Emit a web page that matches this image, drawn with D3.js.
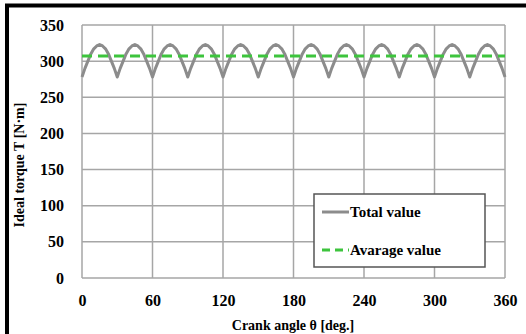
<!doctype html>
<html>
<head>
    <script src="https://d3js.org/d3.v7.min.js"></script>
    <style>
        body { margin: 0; background: #fff; }
        text { font-family: "Liberation Serif", "Times New Roman", serif; font-weight: bold; fill: #000; }
    </style>
</head>
<body>
    <svg width="526" height="334"></svg>

    <script>
        // crank angle [deg.] sampled every 2.5 deg, one hump (30 deg) per row
        var angles = [
            0, 2.5, 5, 7.5, 10, 12.5, 15, 17.5, 20, 22.5, 25, 27.5,
            30, 32.5, 35, 37.5, 40, 42.5, 45, 47.5, 50, 52.5, 55, 57.5,
            60, 62.5, 65, 67.5, 70, 72.5, 75, 77.5, 80, 82.5, 85, 87.5,
            90, 92.5, 95, 97.5, 100, 102.5, 105, 107.5, 110, 112.5, 115, 117.5,
            120, 122.5, 125, 127.5, 130, 132.5, 135, 137.5, 140, 142.5, 145, 147.5,
            150, 152.5, 155, 157.5, 160, 162.5, 165, 167.5, 170, 172.5, 175, 177.5,
            180, 182.5, 185, 187.5, 190, 192.5, 195, 197.5, 200, 202.5, 205, 207.5,
            210, 212.5, 215, 217.5, 220, 222.5, 225, 227.5, 230, 232.5, 235, 237.5,
            240, 242.5, 245, 247.5, 250, 252.5, 255, 257.5, 260, 262.5, 265, 267.5,
            270, 272.5, 275, 277.5, 280, 282.5, 285, 287.5, 290, 292.5, 295, 297.5,
            300, 302.5, 305, 307.5, 310, 312.5, 315, 317.5, 320, 322.5, 325, 327.5,
            330, 332.5, 335, 337.5, 340, 342.5, 345, 347.5, 350, 352.5, 355, 357.5,
            360
        ];
        // total ideal torque [N·m]
        var totalValue = [
            278, 290, 300, 310, 317, 321, 323, 321, 317, 310, 300, 290,
            278, 290, 300, 310, 317, 321, 323, 321, 317, 310, 300, 290,
            278, 290, 300, 310, 317, 321, 323, 321, 317, 310, 300, 290,
            278, 290, 300, 310, 317, 321, 323, 321, 317, 310, 300, 290,
            278, 290, 300, 310, 317, 321, 323, 321, 317, 310, 300, 290,
            278, 290, 300, 310, 317, 321, 323, 321, 317, 310, 300, 290,
            278, 290, 300, 310, 317, 321, 323, 321, 317, 310, 300, 290,
            278, 290, 300, 310, 317, 321, 323, 321, 317, 310, 300, 290,
            278, 290, 300, 310, 317, 321, 323, 321, 317, 310, 300, 290,
            278, 290, 300, 310, 317, 321, 323, 321, 317, 310, 300, 290,
            278, 290, 300, 310, 317, 321, 323, 321, 317, 310, 300, 290,
            278, 290, 300, 310, 317, 321, 323, 321, 317, 310, 300, 290,
            278
        ];
        var averageAngles = [0, 360];
        var averageValue = [307, 307];
        var xTicks = [0, 60, 120, 180, 240, 300, 360];
        var yTicks = [0, 50, 100, 150, 200, 250, 300, 350];
        var seriesNames = ["Total value", "Avarage value"];

        var svg = d3.select("svg");
        var plotLeft = 82, plotRight = 505, plotTop = 25, plotBottom = 278;

        var x = d3.scaleLinear().domain([0, 360]).range([plotLeft, plotRight]);
        var y = d3.scaleLinear().domain([0, 350]).range([plotBottom, plotTop]);

        // outer frame
        svg.append("rect")
            .attr("x", 7).attr("y", 5.5)
            .attr("width", 700).attr("height", 700)
            .attr("fill", "none")
            .attr("stroke", "#000")
            .attr("stroke-width", 4);

        // grid
        svg.append("g").selectAll("line")
            .data(yTicks)
            .enter().append("line")
            .attr("x1", plotLeft).attr("x2", plotRight)
            .attr("y1", d => y(d)).attr("y2", d => y(d))
            .attr("stroke", "#a6a6a6")
            .attr("stroke-width", 1.5);

        svg.append("g").selectAll("line")
            .data(xTicks)
            .enter().append("line")
            .attr("x1", d => x(d)).attr("x2", d => x(d))
            .attr("y1", plotTop).attr("y2", plotBottom)
            .attr("stroke", "#a6a6a6")
            .attr("stroke-width", 1.5);

        // tick labels
        var xAxis = svg.append("g")
            .attr("transform", "translate(0," + plotBottom + ")")
            .call(d3.axisBottom(x).tickValues(xTicks).tickSize(0).tickPadding(17))
            .attr("font-family", null)
            .attr("font-size", null);
        xAxis.select(".domain").remove();
        xAxis.selectAll("text").style("font-size", "16px");

        var yAxis = svg.append("g")
            .attr("transform", "translate(" + plotLeft + ",0)")
            .call(d3.axisLeft(y).tickValues(yTicks).tickSize(0).tickPadding(18))
            .attr("font-family", null)
            .attr("font-size", null);
        yAxis.select(".domain").remove();
        yAxis.selectAll("text").style("font-size", "16px");

        // series
        var line = d3.line().x(d => x(d[0])).y(d => y(d[1]));

        svg.append("path")
            .datum(angles.map((a, i) => [a, totalValue[i]]))
            .attr("d", line)
            .attr("fill", "none")
            .attr("stroke", "#8c8c8c")
            .attr("stroke-width", 3)
            .attr("stroke-linejoin", "round");

        svg.append("path")
            .datum(averageAngles.map((a, i) => [a, averageValue[i]]))
            .attr("d", line)
            .attr("fill", "none")
            .attr("stroke", "#3dc43d")
            .attr("stroke-width", 3)
            .attr("stroke-dasharray", "10,6");

        // axis titles
        svg.append("text")
            .attr("x", 293).attr("y", 330)
            .attr("text-anchor", "middle")
            .style("font-size", "14px")
            .text("Crank angle θ [deg.]");

        svg.append("text")
            .attr("transform", "translate(24,165) rotate(-90)")
            .attr("text-anchor", "middle")
            .style("font-size", "14px")
            .text("Ideal torque T [N·m]");

        // legend
        var lg = svg.append("g");
        lg.append("rect")
            .attr("x", 314).attr("y", 194)
            .attr("width", 171).attr("height", 73)
            .attr("fill", "#fff")
            .attr("stroke", "#555")
            .attr("stroke-width", 1.5);

        var legendStyles = [
            {color: "#8c8c8c", dash: null},
            {color: "#3dc43d", dash: "8,5"}
        ];
        seriesNames.forEach(function (name, i) {
            var ly = 212 + i * 38;
            lg.append("line")
                .attr("x1", 322).attr("x2", 349)
                .attr("y1", ly).attr("y2", ly)
                .attr("stroke", legendStyles[i].color)
                .attr("stroke-width", 3)
                .attr("stroke-dasharray", legendStyles[i].dash);
            lg.append("text")
                .attr("x", 350).attr("y", ly + 5)
                .style("font-size", "15px")
                .text(name);
        });
    </script>
</body>
</html>
